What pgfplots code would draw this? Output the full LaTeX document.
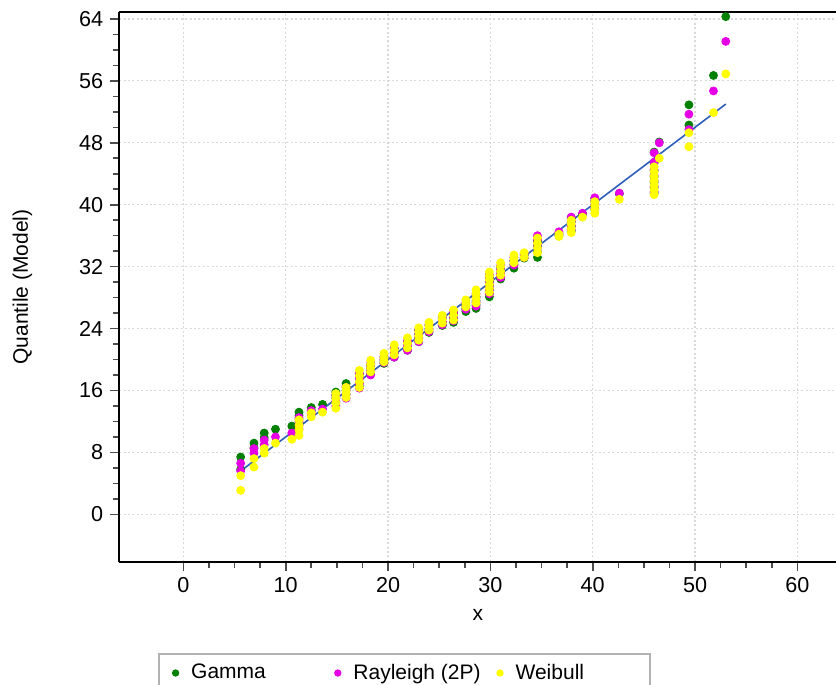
\documentclass[border=0pt]{standalone}
\usepackage{pgfplots}
\pgfplotsset{compat=1.18}
\usepackage{fontspec}
\setmainfont{Liberation Sans}
\definecolor{ggreen}{RGB}{0,128,0}
\definecolor{mmag}{RGB}{230,0,230}
\definecolor{yyel}{RGB}{255,255,0}
\definecolor{lblue}{RGB}{46,94,186}
\begin{document}
\begin{tikzpicture}
\useasboundingbox (-59.65pt,-61.65pt) rectangle (358.35pt,280.85pt);
\begin{axis}[
  at={(0pt,0pt)}, anchor=south west,
  scale only axis, width=358.5pt, height=274.7pt,
  xmin=-6.26, xmax=63.8, ymin=-6.12, ymax=64.86,
  axis x line*=box, axis y line*=left,
  xtick={0,10,...,60}, ytick={0,8,...,64},
  minor x tick num=3, minor y tick num=3,
  xtick pos=left, ytick pos=left,
  tick align=outside,
  major tick length=4.5pt, minor tick length=3pt,
  every tick/.style={gray!60!black, line width=0.8pt},
  axis line style={black, line width=1.1pt},
  grid=major,
  major grid style={gray!30, dash pattern=on 1pt off 1.2pt, line width=0.6pt},
  tick label style={font=\fontsize{10.8}{12}\selectfont},
  /pgf/number format/assume math mode=true,
  xlabel={x}, ylabel={Quantile (Model)},
  label style={font=\fontsize{10.5}{12}\selectfont},
  xlabel style={at={(axis description cs:0.5,-0.097)}, anchor=center},
  ylabel style={at={(axis description cs:-0.135,0.5)}, anchor=center, rotate=0},
  legend style={at={(0.054,-0.166)}, anchor=north west, legend columns=3,
    draw=gray!60, line width=1pt, font=\fontsize{10.5}{12}\selectfont,
    inner xsep=7pt, inner ysep=3pt,
    /tikz/every odd column/.append style={column sep=4.5pt}},
  legend image code/.code={\draw[#1, mark size=1.3pt] plot coordinates {(0pt,0pt)};},
]
\addplot[only marks, mark=*, mark size=2pt, color=ggreen] coordinates {
(5.6,7.4)(5.6,5.8)
(6.9,8.6)(6.9,9.2)
(7.9,9.9)(7.9,10.5)
(9.0,11.0)
(10.6,11.4)
(11.3,11.8)(11.3,12.3)(11.3,12.8)(11.3,13.2)
(12.5,13.4)(12.5,13.8)
(13.6,14.2)
(14.9,14.4)(14.9,15.0)(14.9,15.4)(14.9,15.8)
(15.9,15.5)(15.9,16.0)(15.9,16.5)(15.9,16.9)
(17.2,16.5)(17.2,17.0)(17.2,17.6)(17.2,18.1)
(18.3,18.1)(18.3,18.5)(18.3,18.9)(18.3,19.3)
(19.6,19.5)(19.6,19.9)(19.6,20.3)
(20.6,20.3)(20.6,20.8)(20.6,21.4)
(21.9,21.2)(21.9,21.7)(21.9,22.3)
(23.0,22.3)(23.0,22.8)(23.0,23.3)(23.0,23.8)
(24.0,23.5)(24.0,23.9)(24.0,24.4)
(25.3,24.4)(25.3,24.8)(25.3,25.3)
(26.4,24.8)(26.4,25.3)(26.4,25.9)
(27.6,26.2)(27.6,26.6)(27.6,27.0)
(28.6,26.6)(28.6,27.1)(28.6,27.6)(28.6,28.1)
(29.9,28.1)(29.9,28.6)(29.9,29.1)(29.9,29.6)(29.9,30.1)(29.9,30.6)
(31.0,30.4)(31.0,30.9)(31.0,31.4)(31.0,31.9)
(32.3,31.8)(32.3,32.3)(32.3,32.8)
(33.3,33.1)(33.3,33.5)
(34.6,33.2)(34.6,33.9)(34.6,34.6)(34.6,35.3)
(36.7,36.0)(36.7,36.3)
(37.9,36.6)(37.9,37.2)(37.9,37.8)(37.9,38.3)
(39.0,38.8)
(40.2,39.4)(40.2,39.9)(40.2,40.4)(40.2,40.8)
(42.6,41.4)
(46.0,41.5)(46.0,42.2)(46.0,42.9)(46.0,43.6)(46.0,44.4)(46.0,45.4)(46.0,46.8)
(46.5,48.1)
(49.4,50.3)(49.4,52.9)
(51.8,56.7)
(53.0,64.3)
};
\addlegendentry{\makebox[70pt][l]{Gamma}}
\addplot[only marks, mark=*, mark size=2pt, color=mmag] coordinates {
(5.6,5.6)(5.6,6.6)
(6.9,7.9)(6.9,8.5)
(7.9,9.0)(7.9,9.6)
(9.0,10.0)
(10.6,10.5)
(11.3,11.0)(11.3,11.5)(11.3,12.0)(11.3,12.5)
(12.5,13.0)(12.5,13.4)
(13.6,13.6)
(14.9,14.0)(14.9,14.6)(14.9,15.1)(14.9,15.5)
(15.9,15.0)(15.9,15.5)(15.9,16.0)(15.9,16.4)
(17.2,16.3)(17.2,16.9)(17.2,17.6)(17.2,18.2)
(18.3,18.0)(18.3,18.5)(18.3,19.0)(18.3,19.5)
(19.6,19.6)(19.6,20.0)(19.6,20.4)
(20.6,20.3)(20.6,20.9)(20.6,21.5)
(21.9,21.2)(21.9,21.8)(21.9,22.4)
(23.0,22.3)(23.0,22.8)(23.0,23.3)(23.0,23.8)
(24.0,23.6)(24.0,24.0)(24.0,24.5)
(25.3,24.5)(25.3,24.9)(25.3,25.4)
(26.4,25.0)(26.4,25.5)(26.4,26.1)
(27.6,26.5)(27.6,26.9)(27.6,27.3)
(28.6,26.9)(28.6,27.4)(28.6,28.0)(28.6,28.5)
(29.9,28.5)(29.9,28.9)(29.9,29.4)(29.9,29.9)(29.9,30.4)(29.9,30.9)
(31.0,30.6)(31.0,31.1)(31.0,31.6)(31.0,32.1)
(32.3,32.2)(32.3,32.7)(32.3,33.2)
(33.3,33.2)(33.3,33.7)
(34.6,34.4)(34.6,34.9)(34.6,35.5)(34.6,36.0)
(36.7,36.2)(36.7,36.5)
(37.9,36.8)(37.9,37.3)(37.9,37.9)(37.9,38.4)
(39.0,38.9)
(40.2,39.5)(40.2,40.0)(40.2,40.5)(40.2,40.9)
(42.6,41.5)
(46.0,41.7)(46.0,42.4)(46.0,43.1)(46.0,43.8)(46.0,44.5)(46.0,45.5)(46.0,46.7)
(46.5,48.0)
(49.4,49.7)(49.4,51.7)
(51.8,54.7)
(53.0,61.1)
};
\addlegendentry{\makebox[70pt][l]{Rayleigh (2P)}}
\addplot[only marks, mark=*, mark size=2pt, color=yyel] coordinates {
(5.6,3.1)(5.6,5.0)
(6.9,6.1)(6.9,7.2)
(7.9,7.9)(7.9,8.5)
(9.0,9.2)
(10.6,9.7)
(11.3,10.2)(11.3,10.9)(11.3,11.5)(11.3,12.2)
(12.5,12.6)(12.5,13.1)
(13.6,13.2)
(14.9,13.7)(14.9,14.4)(14.9,15.0)(14.9,15.6)
(15.9,15.1)(15.9,15.6)(15.9,16.0)(15.9,16.4)
(17.2,16.4)(17.2,17.1)(17.2,17.9)(17.2,18.6)
(18.3,18.4)(18.3,18.9)(18.3,19.4)(18.3,19.9)
(19.6,19.7)(19.6,20.2)(19.6,20.8)
(20.6,20.6)(20.6,21.2)(20.6,21.9)
(21.9,21.5)(21.9,22.1)(21.9,22.8)
(23.0,22.5)(23.0,23.0)(23.0,23.6)(23.0,24.1)
(24.0,23.8)(24.0,24.3)(24.0,24.8)
(25.3,24.7)(25.3,25.2)(25.3,25.7)
(26.4,25.1)(26.4,25.7)(26.4,26.4)
(27.6,26.8)(27.6,27.2)(27.6,27.7)
(28.6,27.3)(28.6,27.9)(28.6,28.5)(28.6,29.0)
(29.9,28.7)(29.9,29.2)(29.9,29.7)(29.9,30.3)(29.9,30.8)(29.9,31.3)
(31.0,30.9)(31.0,31.4)(31.0,32.0)(31.0,32.5)
(32.3,32.5)(32.3,33.0)(32.3,33.5)
(33.3,33.2)(33.3,33.8)
(34.6,33.8)(34.6,34.4)(34.6,35.0)(34.6,35.7)
(36.7,35.9)(36.7,36.2)
(37.9,36.4)(37.9,36.9)(37.9,37.5)(37.9,38.0)
(39.0,38.4)
(40.2,38.9)(40.2,39.4)(40.2,39.9)(40.2,40.4)
(42.6,40.7)
(46.0,41.3)(46.0,41.9)(46.0,42.5)(46.0,43.1)(46.0,43.7)(46.0,44.3)(46.0,44.9)
(46.5,46.0)
(49.4,47.5)(49.4,49.3)
(51.8,51.9)
(53.0,56.9)
};
\addlegendentry{\makebox[58pt][l]{Weibull}}
\addplot[forget plot, color=lblue, line width=0.8pt] coordinates {(5.6,5.6)(53,53)};
\end{axis}
\end{tikzpicture}
\end{document}
